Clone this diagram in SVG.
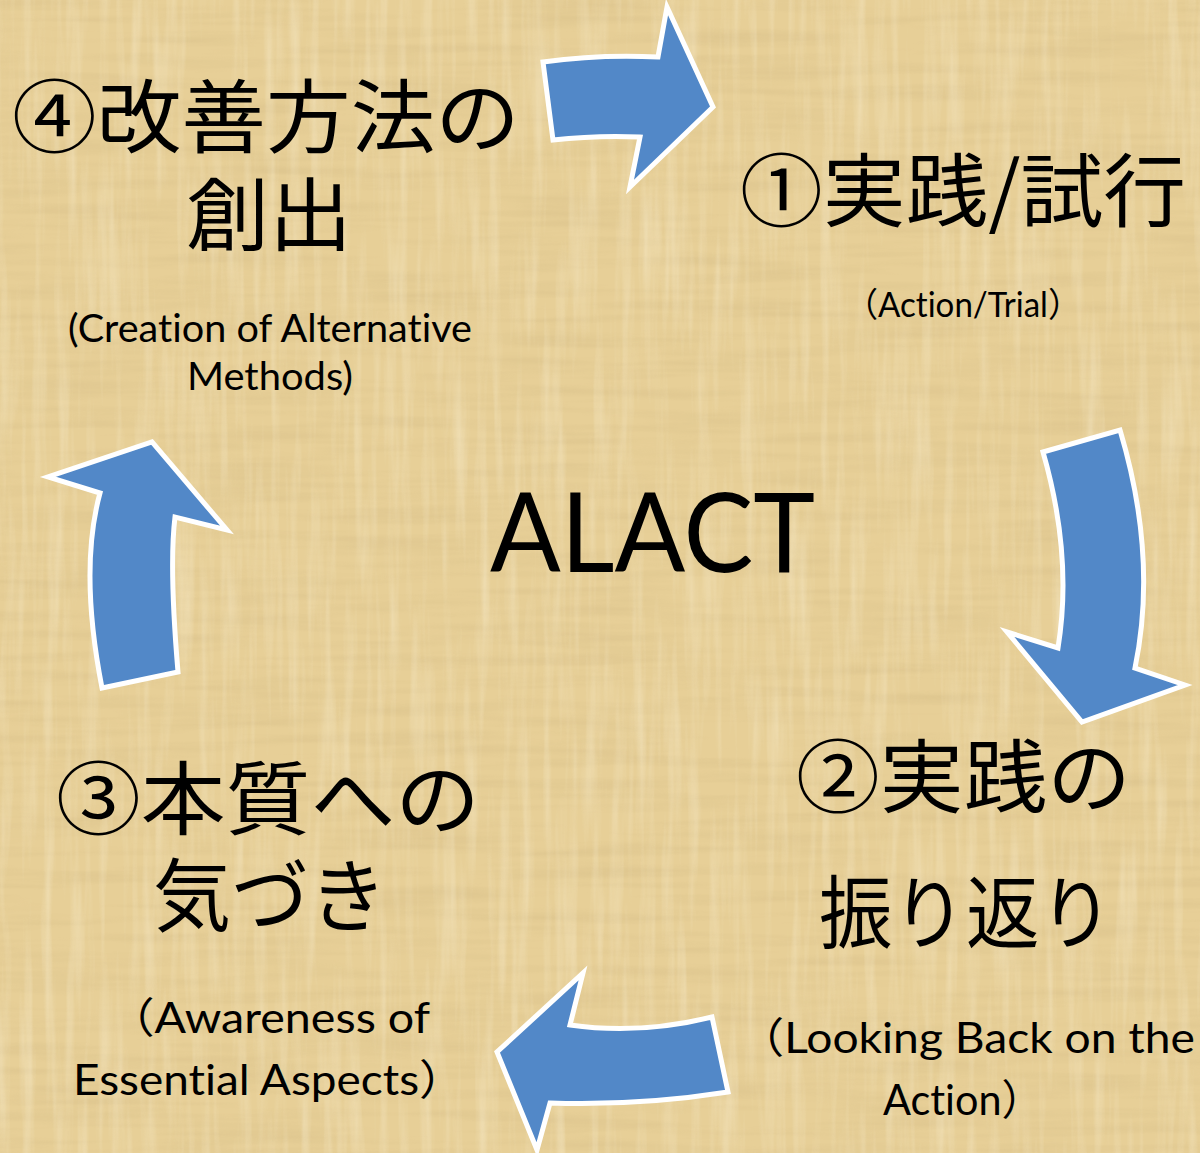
<svg xmlns="http://www.w3.org/2000/svg" width="1200" height="1153" viewBox="0 0 1200 1153">
<defs>
<filter id="texDark" x="0" y="0" width="100%" height="100%" filterUnits="userSpaceOnUse">
<feTurbulence type="fractalNoise" baseFrequency="0.006 0.09" numOctaves="3" seed="4"/>
<feColorMatrix type="matrix" values="0 0 0 0 0.62  0 0 0 0 0.47  0 0 0 0 0.22  1.6 0 0 0 -0.65"/>
</filter>
<filter id="texLight" x="0" y="0" width="100%" height="100%" filterUnits="userSpaceOnUse">
<feTurbulence type="fractalNoise" baseFrequency="0.09 0.006" numOctaves="3" seed="9"/>
<feColorMatrix type="matrix" values="0 0 0 0 0.98  0 0 0 0 0.92  0 0 0 0 0.74  0 1.6 0 0 -0.7"/>
</filter>
<style>
.arrow{fill:#5288C8;stroke:#FFFFFF;stroke-width:5;stroke-linejoin:miter}
.jp{font-family:"Noto Sans CJK JP","Noto Sans",sans-serif;fill:#000;font-size:80px}
.en{font-family:Lato,"Noto Sans CJK JP",sans-serif;fill:#000;font-variant-ligatures:none;font-feature-settings:"liga" 0,"clig" 0}
</style>
</defs>
<rect x="0" y="0" width="1200" height="1153" fill="#E7CF97"/>
<rect x="0" y="0" width="1200" height="1153" filter="url(#texDark)" opacity="0.4"/>
<rect x="0" y="0" width="1200" height="1153" filter="url(#texLight)" opacity="0.45"/>

<g id="connectors">
<path class="arrow" d="M543,62 Q600,54 658,57 L667,7 L713,107 L630,187 L640,137 Q597,135 553,140 Z"/>
<path class="arrow" d="M1043,452 L1120,430 Q1158,557 1135,668 L1185,685 L1082,722 L1007,632 L1058,648 Q1073,556 1043,452 Z"/>
<path class="arrow" d="M712,1017 L728,1092 Q639,1106 550,1103 L537,1150 L497,1052 L583,973 L570,1025 Q639,1035 712,1017 Z"/>
<path class="arrow" d="M102,688 L178,672 Q169,566 175,517 L227,530 L152,442 L48,477 L100,493 Q79,570 102,688 Z"/>
</g>

<g id="node-center">
<text class="en" x="490" y="572" font-size="110" textLength="325" lengthAdjust="spacingAndGlyphs">ALACT</text>
</g>

<g id="node-4">
<text class="jp" x="12" y="146" font-size="84" textLength="508" lengthAdjust="spacingAndGlyphs">④改善方法の</text>
<text class="jp" x="186" y="244" font-size="84" textLength="166" lengthAdjust="spacingAndGlyphs">創出</text>
<text class="en" x="68" y="342" font-size="38" textLength="404" lengthAdjust="spacingAndGlyphs">(Creation of Alternative</text>
<text class="en" x="187" y="390" font-size="38" textLength="166" lengthAdjust="spacingAndGlyphs">Methods)</text>
</g>

<g id="node-1">
<text class="jp" x="740" y="220" font-size="80" textLength="446" lengthAdjust="spacingAndGlyphs">①実践/試行</text>
<text class="en" x="845" y="317" font-size="34" textLength="236" lengthAdjust="spacingAndGlyphs">（Action/Trial）</text>
</g>

<g id="node-2">
<text class="jp" x="796" y="806" font-size="82" textLength="335" lengthAdjust="spacingAndGlyphs">②実践の</text>
<text class="jp" x="819" y="942" font-size="82" textLength="294" lengthAdjust="spacingAndGlyphs">振り返り</text>
<text class="en" x="738" y="1053" font-size="42" textLength="457" lengthAdjust="spacingAndGlyphs">（Looking Back on the</text>
<text class="en" x="883" y="1115" font-size="42" textLength="160" lengthAdjust="spacingAndGlyphs">Action）</text>
</g>

<g id="node-3">
<text class="jp" x="56" y="828" font-size="84" textLength="424" lengthAdjust="spacingAndGlyphs">③本質への</text>
<text class="jp" x="153" y="925" font-size="84" textLength="234" lengthAdjust="spacingAndGlyphs">気づき</text>
<text class="en" x="108" y="1033" font-size="42" textLength="322" lengthAdjust="spacingAndGlyphs">（Awareness of</text>
<text class="en" x="73" y="1095" font-size="42" textLength="392" lengthAdjust="spacingAndGlyphs">Essential Aspects）</text>
</g>
</svg>
